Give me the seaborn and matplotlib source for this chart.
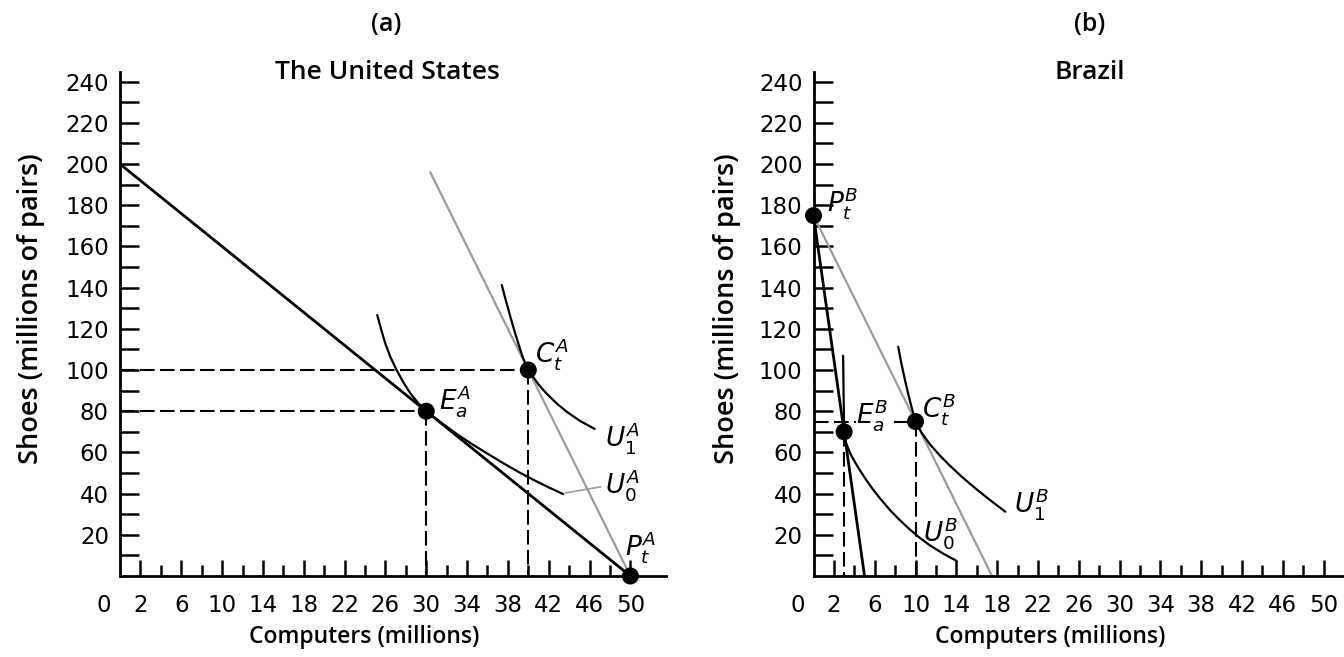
import matplotlib
matplotlib.use("Agg")
import matplotlib.pyplot as plt
import matplotlib.transforms as mtransforms
import seaborn as sns

# ---- data ----
x_major = [0, 2, 6, 10, 14, 18, 22, 26, 30, 34, 38, 42, 46, 50]
x_minor = [4, 8, 12, 16, 20, 24, 28, 32, 36, 40, 44, 48]
y_ticks = list(range(10, 250, 10))
y_tick_labels = [str(v) if v % 20 == 0 else "" for v in y_ticks]

# (a) The United States
us_ppf_x = [0, 50]
us_ppf_y = [200, 0]
us_trade_x = [30.4, 50]
us_trade_y = [196, 0]
us_u0_x = [25.2, 25.6, 26.0, 26.5, 27.1, 27.7, 28.4, 29.2, 30.0, 31.4, 33.0, 34.4, 35.9, 37.5, 39.2, 40.5, 41.8, 43.4]
us_u0_y = [126.7, 119.5, 112.7, 106.2, 100.0, 94.5, 89.0, 84.0, 80.0, 74.7, 68.9, 64.3, 59.7, 54.9, 50.1, 46.7, 43.5, 39.8]
us_u1_x = [37.4, 37.8, 38.2, 38.6, 39.1, 39.5, 40.0, 41.0, 41.8, 42.8, 43.8, 45.1, 46.5]
us_u1_y = [141.3, 133.8, 126.6, 119.7, 111.6, 105.6, 100.0, 93.0, 88.5, 83.7, 79.6, 75.2, 71.4]
us_pt_x = [30, 40, 50]   # E, C, P
us_pt_y = [80, 100, 0]

# (b) Brazil
br_ppf_x = [0, 5]
br_ppf_y = [175, 0]
br_trade_x = [0, 17.5]
br_trade_y = [175, 0]
br_u0_x = [2.9, 2.95, 3.0, 3.15, 3.6, 4.0, 4.56, 5.2, 5.86, 6.6, 7.5, 8.4, 9.46, 10.4, 11.4, 12.7, 14.0]
br_u0_y = [107, 88, 70, 65, 59.5, 55.8, 51.2, 46.4, 41.8, 37.2, 32.0, 27.4, 22.5, 18.6, 14.9, 10.9, 7.4]
br_u1_x = [8.3, 8.6, 8.97, 9.3, 9.6, 10.0, 10.6, 11.4, 12.4, 13.4, 14.6, 16.0, 17.4, 18.8]
br_u1_y = [111.3, 103.5, 95.0, 88.0, 82.2, 75.0, 69.5, 64.0, 58.4, 53.4, 47.9, 42.0, 36.5, 31.2]
br_pt_x = [3, 10, 0]     # E, C, P
br_pt_y = [70, 75, 175]

sns.set_style("white")
plt.rcParams['font.family'] = ['Open Sans', 'DejaVu Sans']
plt.rcParams['mathtext.fontset'] = 'dejavusans'
plt.rcParams['text.color'] = 'black'
plt.rcParams['axes.labelcolor'] = 'black'
plt.rcParams['xtick.color'] = 'black'
plt.rcParams['ytick.color'] = 'black'

fig = plt.figure(figsize=(13.44, 6.57), dpi=100)
ax1 = fig.add_axes([0.0893, 0.1233, 0.4063, 0.7671])
ax2 = fig.add_axes([0.6053, 0.1233, 0.3947, 0.7671])

GRAY = "#9c9c9c"
DASH = (7, 2.6)


def style_axes(ax, xmax):
    ax.set_xlim(0, xmax)
    ax.set_ylim(0, 244.7)
    for s in ["top", "right"]:
        ax.spines[s].set_visible(False)
    for s in ["left", "bottom"]:
        ax.spines[s].set_linewidth(2.0)
        ax.spines[s].set_color("black")
    ax.set_xticks(x_major)
    ax.set_xticklabels([str(v) for v in x_major])
    ax.set_xticks(x_minor, minor=True)
    ax.set_yticks(y_ticks)
    ax.set_yticklabels(y_tick_labels)
    ax.tick_params(axis="x", which="major", direction="in", length=11.5, width=1.8,
                   pad=13, labelsize=16.5, labelcolor="black", color="black", bottom=True)
    ax.tick_params(axis="x", which="minor", direction="in", length=8, width=1.8,
                   color="black", bottom=True)
    ax.tick_params(axis="y", direction="in", length=13.5, width=1.8, pad=8,
                   labelsize=16.5, labelcolor="black", color="black", left=True)
    for lab in ax.get_xticklabels() + ax.get_yticklabels():
        lab.set_family("DejaVu Sans")
    ax.xaxis.get_major_ticks()[0].tick1line.set_visible(False)
    lab0 = ax.get_xticklabels()[0]
    lab0.set_transform(lab0.get_transform() +
                       mtransforms.ScaledTranslation(-0.16, 0, fig.dpi_scale_trans))
    ax.text(0.447, -0.121, "Computers (millions)", transform=ax.transAxes,
            ha="center", va="center", fontsize=16.5, fontweight="semibold")
    ax.text(-0.163, 0.53, "Shoes (millions of pairs)", transform=ax.transAxes,
            ha="center", va="center", rotation=90, fontsize=19.5, fontweight="semibold")
    ax.set_xlabel("")
    ax.set_ylabel("")


def curve(ax, x, y, color="black", lw=1.6):
    sns.lineplot(x=x, y=y, ax=ax, color=color, linewidth=lw, estimator=None,
                 sort=False, legend=False)


# ---- panel (a) ----
style_axes(ax1, 53.5)
for i in [1, 0]:
    ax1.plot([0, us_pt_x[i]], [us_pt_y[i], us_pt_y[i]], color="black", lw=1.5, dashes=DASH)
    ax1.plot([us_pt_x[i], us_pt_x[i]], [us_pt_y[i], 0], color="black", lw=1.5, dashes=DASH)
curve(ax1, us_trade_x, us_trade_y, color=GRAY, lw=1.6)
curve(ax1, us_ppf_x, us_ppf_y, lw=2.0)
curve(ax1, us_u0_x, us_u0_y)
curve(ax1, us_u1_x, us_u1_y)
ax1.plot([43.6, 47.1], [40.3, 43.3], color=GRAY, lw=1.2)
sns.scatterplot(x=us_pt_x, y=us_pt_y, ax=ax1, color="black", s=150, edgecolor="none",
                zorder=5, clip_on=False, legend=False)
lab_kw = dict(fontsize=19, va="center", ha="left")
ax1.text(31.3, 85, r"$E_a^A$", **lab_kw)
ax1.text(40.7, 108, r"$C_t^A$", **lab_kw)
ax1.text(47.5, 67, r"$U_1^A$", **lab_kw)
ax1.text(47.5, 44, r"$U_0^A$", **lab_kw)
ax1.text(49.5, 14, r"$P_t^A$", **lab_kw)
fig.text(0.287, 0.962, "(a)", ha="center", va="center", fontsize=18, fontweight="semibold")
fig.text(0.288, 0.890, "The United States", ha="center", va="center", fontsize=19,
         fontweight="semibold")

# ---- panel (b) ----
style_axes(ax2, 52.0)
ax2.plot([0, br_pt_x[1]], [br_pt_y[1], br_pt_y[1]], color="black", lw=1.5, dashes=DASH)
for i in [0, 1]:
    ax2.plot([br_pt_x[i], br_pt_x[i]], [br_pt_y[i], 0], color="black", lw=1.5, dashes=DASH)
curve(ax2, br_trade_x, br_trade_y, color=GRAY, lw=1.6)
curve(ax2, br_ppf_x, br_ppf_y, lw=2.0)
curve(ax2, br_u0_x, br_u0_y)
curve(ax2, br_u1_x, br_u1_y)
sns.scatterplot(x=br_pt_x, y=br_pt_y, ax=ax2, color="black", s=150, edgecolor="none",
                zorder=5, clip_on=False, legend=False)
ax2.text(4.2, 78, r"$E_a^B$", bbox=dict(facecolor="white", edgecolor="none", pad=0.5), **lab_kw)
ax2.text(10.6, 81, r"$C_t^B$", **lab_kw)
ax2.text(10.7, 21, r"$U_0^B$", **lab_kw)
ax2.text(19.7, 35, r"$U_1^B$", **lab_kw)
ax2.text(1.3, 181, r"$P_t^B$", **lab_kw)
fig.text(0.811, 0.962, "(b)", ha="center", va="center", fontsize=18, fontweight="semibold")
fig.text(0.811, 0.890, "Brazil", ha="center", va="center", fontsize=19, fontweight="semibold")

plt.savefig("out.png", dpi=100)
